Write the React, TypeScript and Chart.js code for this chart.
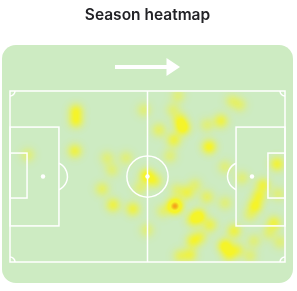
import React, { useEffect, useRef } from 'react';
import { Chart, registerables } from 'chart.js';

Chart.register(...registerables);

const TITLE = 'Season heatmap';

// Touch locations: x = 0..100 along the pitch (attacking left → right), y = 0..100 top → bottom
const touchX = [24.0, 24.0, 23.6, 6.5, 35.3, 42.2, 37.1, 33.5, 37.5, 44.7, 48.7, 49.8, 52.7, 47.3, 49.8, 61.1, 59.3, 61.8, 62.9, 59.6, 54.2, 58.2, 60.0, 64.4, 60.7, 55.6, 66.5, 68.7, 72.7, 66.5, 61.8, 65.5, 80.7, 83.6, 76.7, 71.6, 72.4, 78.2, 84.4, 97.1, 97.5, 92.0, 90.5, 89.1, 87.3, 96.0, 94.2, 98.2, 88.7, 81.5, 78.2, 71.6, 67.3, 78.2, 82.5, 79.6, 87.3, 69.1];
const touchY = [11.7, 17.5, 35.1, 37.4, 39.2, 39.2, 46.2, 57.3, 66.7, 69.0, 11.1, 49.7, 52.6, 56.7, 81.3, 2.9, 11.1, 17.0, 21.6, 28.7, 22.8, 38.0, 67.3, 59.6, 57.9, 70.2, 75.4, 73.1, 78.4, 87.7, 96.5, 95.9, 5.8, 8.2, 17.5, 19.9, 32.7, 44.4, 50.9, 42.7, 60.2, 55.0, 61.4, 67.3, 72.5, 77.2, 83.0, 88.3, 87.7, 81.9, 65.5, 62.0, 55.0, 90.6, 93.0, 95.9, 96.5, 85.4];
const touchWeight = [2, 2, 1.8, 1, 1, 1, 1, 1.3, 1.8, 1.8, 1, 2.6, 1.6, 1, 1, 1, 1, 1.8, 2.6, 1.8, 1.3, 1, 5, 1.6, 1, 1, 1.6, 2.6, 1.6, 1.8, 1.3, 1.6, 1, 1, 1.8, 1, 2.4, 1, 1, 2, 1, 1.8, 1.8, 2.2, 1, 1.8, 1, 1, 1, 1.8, 1, 1.3, 1, 2.6, 1.6, 1.6, 1, 1.3];

// Pitch markings in axis units (0..100)
const PITCH = {
  boxDepth: 17.8, boxTop: 21.1, boxBottom: 78.9,
  sixDepth: 6.2, sixTop: 36.3, sixBottom: 62.6,
  spot: 12, circleR: 7.5,
};

const BG = '#cdebc2';
const LINE = '#ffffff';

const cardPlugin = {
  id: 'card',
  beforeDraw(chart: any) {
    const { ctx, chartArea: a } = chart;
    ctx.save();
    ctx.fillStyle = BG;
    ctx.beginPath();
    ctx.roundRect(a.left - 8, a.top - 46, a.right - a.left + 16, a.bottom - a.top + 67, 14);
    ctx.fill();
    // direction arrow
    const cx = (a.left + a.right) / 2;
    const y = a.top - 24;
    ctx.fillStyle = '#ffffff';
    ctx.fillRect(cx - 32.5, y - 2, 52, 4);
    ctx.beginPath();
    ctx.moveTo(cx + 19, y - 9);
    ctx.lineTo(cx + 32.5, y);
    ctx.lineTo(cx + 19, y + 9);
    ctx.closePath();
    ctx.fill();
    ctx.restore();
  },
};

const heatPlugin = {
  id: 'heat',
  beforeDatasetsDraw(chart: any) {
    const { ctx, chartArea: a } = chart;
    const W = Math.round(a.right - a.left);
    const H = Math.round(a.bottom - a.top);
    const meta = chart.getDatasetMeta(0);
    const pts = meta.data.map((el: any, i: number) => ({ x: el.x - a.left, y: el.y - a.top, w: touchWeight[i] }));
    const sigma = 5;
    const s2 = 2 * sigma * sigma;
    const cut = 9 * sigma * sigma;
    const off = document.createElement('canvas');
    off.width = W; off.height = H;
    const octx = off.getContext('2d')!;
    const img = octx.createImageData(W, H);
    const d = img.data;
    for (let py = 0; py < H; py++) {
      for (let px = 0; px < W; px++) {
        let v = 0;
        for (const p of pts) {
          const dx = px + 0.5 - p.x, dy = py + 0.5 - p.y;
          const r2 = dx * dx + dy * dy;
          if (r2 < cut) v += p.w * Math.exp(-r2 / s2);
        }
        if (v < 0.01) continue;
        let r = 248, g = 244, b = 30, al;
        if (v <= 3.6) {
          al = Math.min(0.93, v * 0.4);
        } else {
          const t = Math.min(1, (v - 3.6) / 1.6);
          r = 248 - 4 * t; g = 244 - 94 * t; b = 30 - 5 * t;
          al = 0.93 + 0.07 * t;
        }
        const k = (py * W + px) * 4;
        d[k] = r; d[k + 1] = g; d[k + 2] = b; d[k + 3] = Math.round(al * 255);
      }
    }
    octx.putImageData(img, 0, 0);
    ctx.drawImage(off, a.left, a.top);
  },
};

const pitchPlugin = {
  id: 'pitch',
  afterDatasetsDraw(chart: any) {
    const { ctx, scales } = chart;
    const X = (v: number) => scales.x.getPixelForValue(v);
    const Y = (v: number) => scales.y.getPixelForValue(v);
    const unit = X(1) - X(0);
    const P = PITCH;
    ctx.save();
    ctx.strokeStyle = LINE;
    ctx.fillStyle = LINE;
    ctx.lineWidth = 1.5;
    ctx.strokeRect(X(0), Y(0), X(100) - X(0), Y(100) - Y(0));
    ctx.beginPath();
    ctx.moveTo(X(50), Y(0));
    ctx.lineTo(X(50), Y(100));
    ctx.stroke();
    // centre circle + spot
    ctx.beginPath();
    ctx.arc(X(50), Y(50), P.circleR * unit, 0, Math.PI * 2);
    ctx.stroke();
    ctx.beginPath();
    ctx.arc(X(50), Y(50), 2.2, 0, Math.PI * 2);
    ctx.fill();
    // boxes
    ctx.strokeRect(X(0), Y(P.boxTop), X(P.boxDepth) - X(0), Y(P.boxBottom) - Y(P.boxTop));
    ctx.strokeRect(X(100 - P.boxDepth), Y(P.boxTop), X(100) - X(100 - P.boxDepth), Y(P.boxBottom) - Y(P.boxTop));
    ctx.strokeRect(X(0), Y(P.sixTop), X(P.sixDepth) - X(0), Y(P.sixBottom) - Y(P.sixTop));
    ctx.strokeRect(X(100 - P.sixDepth), Y(P.sixTop), X(100) - X(100 - P.sixDepth), Y(P.sixBottom) - Y(P.sixTop));
    // penalty spots
    ctx.beginPath();
    ctx.arc(X(P.spot), Y(50), 2.2, 0, Math.PI * 2);
    ctx.fill();
    ctx.beginPath();
    ctx.arc(X(100 - P.spot), Y(50), 2.2, 0, Math.PI * 2);
    ctx.fill();
    // penalty arcs
    const arcR = 14.5, arcD = 6;
    const al = Math.acos(arcD / arcR);
    ctx.beginPath();
    ctx.arc(X(P.boxDepth) - arcD, Y(50), arcR, -al, al);
    ctx.stroke();
    ctx.beginPath();
    ctx.arc(X(100 - P.boxDepth) + arcD, Y(50), arcR, Math.PI - al, Math.PI + al);
    ctx.stroke();
    // corner arcs
    const cr = 5;
    ctx.beginPath(); ctx.arc(X(0), Y(0), cr, 0, Math.PI / 2); ctx.stroke();
    ctx.beginPath(); ctx.arc(X(100), Y(0), cr, Math.PI / 2, Math.PI); ctx.stroke();
    ctx.beginPath(); ctx.arc(X(0), Y(100), cr, -Math.PI / 2, 0); ctx.stroke();
    ctx.beginPath(); ctx.arc(X(100), Y(100), cr, Math.PI, Math.PI * 1.5); ctx.stroke();
    ctx.restore();
  },
};

export default function App() {
  const ref = useRef<HTMLCanvasElement | null>(null);
  useEffect(() => {
    if (!ref.current) return;
    const chart = new Chart(ref.current, {
      type: 'scatter',
      data: {
        datasets: [{
          data: touchX.map((x, i) => ({ x, y: touchY[i] })),
          pointRadius: 0,
          pointHoverRadius: 0,
        }],
      },
      options: {
        animation: false,
        responsive: false,
        devicePixelRatio: 1,
        layout: { padding: { left: 10, right: 12, top: 0, bottom: 29 } },
        scales: {
          x: { type: 'linear', min: 0, max: 100, display: false },
          y: { type: 'linear', min: 0, max: 100, reverse: true, display: false },
        },
        plugins: {
          legend: { display: false },
          tooltip: { enabled: false },
          title: {
            display: true,
            text: TITLE,
            color: '#222226',
            font: { family: 'Inter', size: 15.5, weight: 600 },
            padding: { top: 6, bottom: 66.4 },
          },
        },
      },
      plugins: [cardPlugin, heatPlugin, pitchPlugin],
    } as any);
    return () => chart.destroy();
  }, []);
  return (
    <div style={{ position: 'absolute', left: 0, top: 0, width: 297, height: 291, background: '#ffffff' }}>
      <canvas ref={ref} width={297} height={291} style={{ display: 'block' }} />
    </div>
  );
}
